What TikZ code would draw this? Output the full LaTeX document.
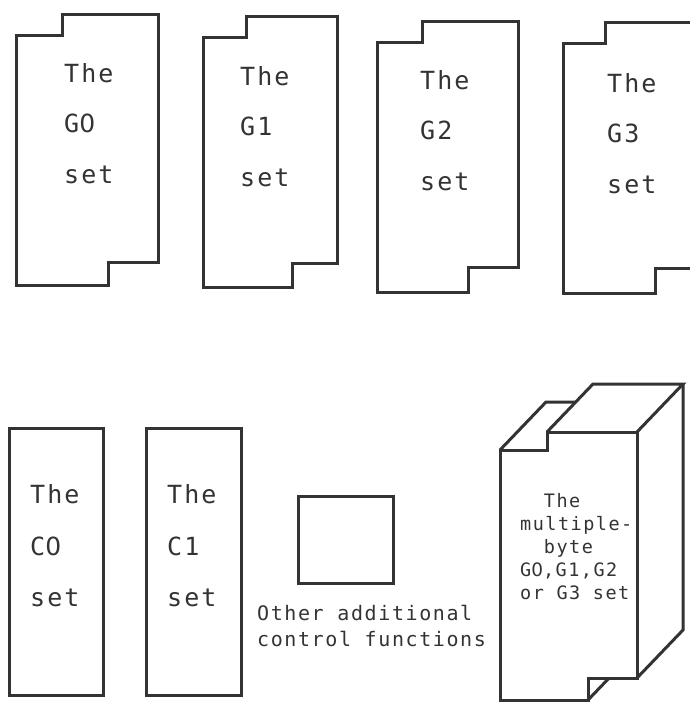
\documentclass[tikz,border=0pt]{standalone}
\usepackage{fontspec}
\newfontfamily\typefont[LetterSpace=8]{DejaVu Sans Mono}
\newfontfamily\zerofont[LetterSpace=2]{DejaVu Sans}
\newcommand\plainzero{{\zerofont 0}}
\usepackage{tikz}
\usetikzlibrary{calc}
\definecolor{inkgray}{HTML}{333333}
\tikzset{setline/.style={draw=inkgray,line width=3pt,line join=miter},bigtext/.style={anchor=base west,inner sep=0pt,text=inkgray,font=\typefont\fontsize{25}{25}\selectfont},smalltext/.style={anchor=base west,inner sep=0pt,text=inkgray,font=\typefont\fontsize{20}{20}\selectfont},mbtext/.style={smalltext,font=\typefont\fontsize{18.5}{18.5}\selectfont}}

\begin{document}
\begin{tikzpicture}[x=1pt,y=-1pt]
\clip (0,0) rectangle (690,702);
% the four graphic sets
\foreach \n/\l/\r/\nx/\ty/\tly/\sx/\sy/\by in {0/16/158/62/14/35/108/262/285,1/203/337/246/16/37/292/263/287,2/377/518/422/21/42/468/267/292,3/563/694/605/22/43/655/268/293}{\draw[setline] (\nx,\ty)--(\r,\ty)--(\r,\sy)--(\sx,\sy)--(\sx,\by)--(\l,\by)--(\l,\tly)--(\nx,\tly)--cycle;}
\foreach \n/\x/\y/\s in {0/64/82/\plainzero,1/240/85/1,2/420/89/2,3/607/92/3}{\node[bigtext] (g\n the) at (\x,\y) {The};\node[bigtext] (g\n name) at (\x,\y+50) {G\s};\node[bigtext] (g\n set) at (\x,\y+101) {set};}
% the control sets
\draw[setline] (9,428) rectangle (103,695);
\draw[setline] (146,428) rectangle (241,695);
\foreach \n/\x/\s in {0/30/\plainzero,1/167/1}{\node[bigtext] (c\n the) at (\x,503) {The};\node[bigtext] (c\n name) at (\x,555) {C\s};\node[bigtext] (c\n set) at (\x,606) {set};}
% other control functions
\draw[setline] (298,496) rectangle (393,583);
\node[smalltext] (other1) at (257,620) {Other additional};
\node[smalltext] (other2) at (257,646) {control functions};
% multiple-byte set
\coordinate (ftl) at (500,450);
\coordinate (fst) at (547,432);
\coordinate (ftr) at (637,432);
\coordinate (fbr) at (637,678);
\coordinate (fsb) at (588,678);
\draw[setline] (ftl)--(547,450)--(fst)--(ftr)--(fbr)--(fsb)--(588,700)--(500,700)--cycle;
\draw[setline] (fst)--++(46,-48)--++(90,0)--(ftr);
\draw[setline] ($(ftr)+(46,-48)$)--($(fbr)+(46,-48)$)--(fbr);
\draw[setline] (ftl)--++(46,-48)--($(fst)!0.625!($(fst)+(46,-48)$)$);
\draw[setline] (588,700)--($(fsb)+(21.1,0)$);
\foreach \t [count=\i from 0] in {{\phantom{xx}The},multiple-,{\phantom{xx}byte},{G\plainzero,G1,G2},{or G3 set}}{\node[mbtext] (mb\i) at (520,507+23*\i) {\t};}
\end{tikzpicture}
\end{document}
